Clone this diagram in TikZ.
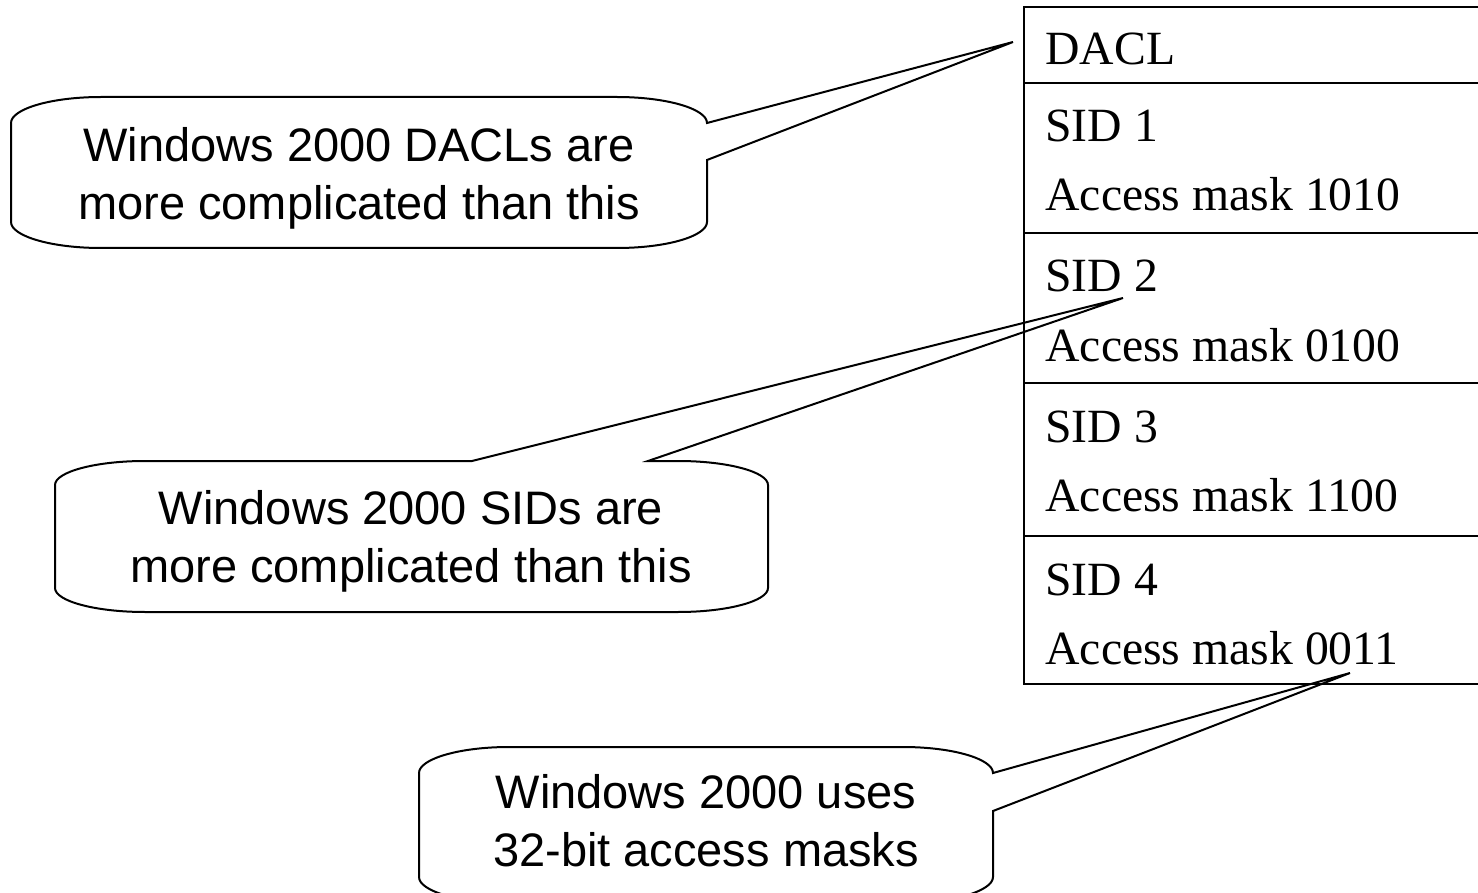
\documentclass[tikz,border=0pt]{standalone}
\usepackage{fontspec}
\setmainfont{Liberation Serif}
\newfontfamily\calloutfont{Liberation Sans}

\begin{document}
\begin{tikzpicture}[x=0.5pt,y=-0.5pt,
        cell/.style={anchor=base west,inner sep=0pt,font=\fontsize{23.85}{28}\selectfont},
        note/.style={align=center,inner sep=0pt,font=\calloutfont\fontsize{23.5}{29}\selectfont},
        bubble/.style={draw=black,line width=1pt,line join=miter}]
        \useasboundingbox (0,0) rectangle (1478,893);
        \clip (0,0) rectangle (1478,893);
        % the ACL table
        \draw[line width=1pt] (1490,7) -- (1024,7) -- (1024,684) -- (1490,684);
        \foreach \y in {83,233,383,536}
            \draw[line width=1.25pt] (1024,\y) -- (1490,\y);
        \node[cell] (dacl) at (1045,65) {DACL};
        \foreach \i/\m/\y in {1/1010/83,2/0100/233,3/1100/383,4/0011/536}{
            \node[cell] (sid\i) at (1045,\y+59) {SID \i};
            \node[cell] (mask\i) at (1045,\y+128) {Access mask \m};
        }
        % where the callouts point
        \coordinate (tipdacl) at (1013,42);
        \coordinate (tipsid) at (1123,298);
        \coordinate (tipmask) at (1350,673);
        % callouts
        \draw[bubble] (11,123) .. controls (11,109) and (51,97) .. (101,97) -- (617,97)
            .. controls (667,97) and (707,109) .. (707,123) -- (tipdacl) -- (707,160) -- (707,222)
            .. controls (707,236) and (667,248) .. (617,248) -- (101,248)
            .. controls (51,248) and (11,236) .. (11,222) -- cycle;
        \node[note] (notedacl) at (359,178) {Windows 2000 DACLs are\\more complicated than this};
        \draw[bubble] (55,485) .. controls (55,472) and (95,461) .. (145,461) -- (472,461) -- (tipsid)
            -- (648,461) -- (678,461) .. controls (728,461) and (768,472) .. (768,485) -- (768,588)
            .. controls (768,601) and (728,612) .. (678,612) -- (145,612)
            .. controls (95,612) and (55,601) .. (55,588) -- cycle;
        \node[note] (notesid) at (411,541) {Windows 2000 SIDs are\\more complicated than this};
        \draw[bubble] (419,773) .. controls (419,759) and (459,747) .. (509,747) -- (903,747)
            .. controls (953,747) and (993,759) .. (993,773) -- (tipmask) -- (993,811) -- (993,877)
            .. controls (993,891) and (953,903) .. (903,903) -- (509,903)
            .. controls (459,903) and (419,891) .. (419,877) -- cycle;
        \node[note] (notemask) at (706,821) {Windows 2000 uses\\32-bit access masks};
\end{tikzpicture}
\end{document}
